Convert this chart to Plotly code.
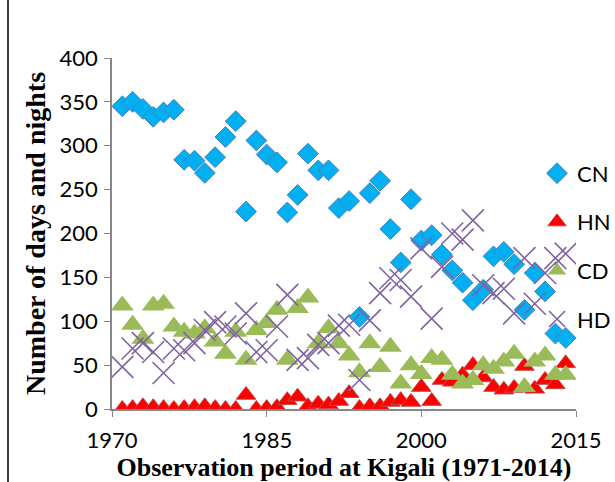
import plotly.graph_objects as go

# Observation years at Kigali
years = list(range(1971, 2015))

# Annual counts (days / nights) per index
cn = [345, 350, 342, 333, 338, 341, 284, 283, 269, 287,
      310, 328, 225, 306, 290, 281, 224, 244, 291, 272,
      272, 229, 237, 105, 246, 260, 205, 167, 239, 192,
      198, 176, 158, 144, 124, 136, 174, 179, 165, 113,
      155, 134, 86, 81]
hn = [0, 1, 3, 2, 1, 0, 1, 2, 3, 1,
      0, 0, 16, 0, 1, 2, 10, 14, 3, 6,
      5, 9, 18, 1, 3, 3, 8, 10, 8, 25,
      9, 33, 31, 39, 50, 36, 25, 22, 24, 49,
      23, 33, 28, 52]
cd = [118, 96, 80, 118, 120, 94, 88, 86, 92, 77,
      63, 88, 56, 90, 98, 113, 56, 115, 127, 75,
      92, 75, 61, 42, 75, 48, 71, 29, 50, 40,
      58, 56, 39, 29, 33, 50, 46, 54, 63, 25,
      54, 61, 39, 39]
hd = [48, 69, 75, 65, 41, 69, 67, 75, 90, 99,
      94, 86, 109, 65, 67, 94, 130, 56, 58, 73,
      75, 95, 96, 33, 101, 132, 149, 147, 128, 183,
      103, 162, 200, 193, 215, 141, 132, 137, 109, 172,
      120, 155, 172, 177]

x_ticks = [1970, 1985, 2000, 2015]
y_ticks = [0, 50, 100, 150, 200, 250, 300, 350, 400]

series = [
    ("CN", cn, dict(symbol="diamond", size=16, color="#00b0f0",
                    line=dict(color="#4a7ebb", width=1))),
    ("HN", hn, dict(symbol="triangle-up", size=17, color="#ff0000",
                    line=dict(color="#be4b48", width=1))),
    ("CD", cd, dict(symbol="triangle-up", size=20, color="#9bbb59",
                    line=dict(color="#9bbb59", width=0))),
    ("HD", hd, dict(symbol="x-thin-open", size=22, color="#8064a2",
                    line=dict(color="#8064a2", width=1.6))),
]

fig = go.Figure()
for name, vals, marker in series:
    fig.add_trace(go.Scatter(x=years, y=vals, mode="markers", name=name,
                             legendgroup=name, marker=marker))

tick_font = dict(family="Lato, Open Sans, sans-serif", size=22, color="#000000")
serif = "Liberation Serif, Times New Roman, serif"

fig.update_layout(
    width=615, height=482,
    margin=dict(l=112, r=39, t=58, b=73, autoexpand=False),
    paper_bgcolor="#ffffff", plot_bgcolor="#ffffff",
    showlegend=True,
    legend=dict(x=0.916, xanchor="left", y=0.731, yanchor="top",
                font=dict(family="Lato, Open Sans, sans-serif", size=22,
                          color="#000000"),
                bgcolor="rgba(0,0,0,0)", tracegroupgap=17,
                itemsizing="trace"),
    xaxis=dict(range=[1970, 2015], tickvals=x_ticks, showgrid=False,
               zeroline=False, showline=True, linecolor="#868686",
               linewidth=1.5, ticks="outside", ticklen=6, tickcolor="#868686",
               tickfont=tick_font, ticklabelstandoff=5,
               title=dict(text="<b>Observation period at Kigali (1971-2014)</b>",
                          font=dict(family=serif, size=26, color="#000000"),
                          standoff=3)),
    yaxis=dict(range=[0, 400], tickvals=y_ticks, showgrid=False,
               zeroline=False, showline=True, linecolor="#868686",
               linewidth=1.5, ticks="outside", ticklen=6, tickcolor="#868686",
               tickfont=tick_font, ticklabelstandoff=2,
               title=dict(text="<b>Number of days and nights</b>",
                          font=dict(family=serif, size=28, color="#000000"),
                          standoff=6)),
)

# Outer frame line at the left edge of the page
fig.add_shape(type="line", xref="paper", yref="paper",
              x0=-104/464, x1=-104/464, y0=-80/351, y1=1 + 70/351,
              line=dict(color="#000000", width=1.5))

fig.write_html("out.html")
